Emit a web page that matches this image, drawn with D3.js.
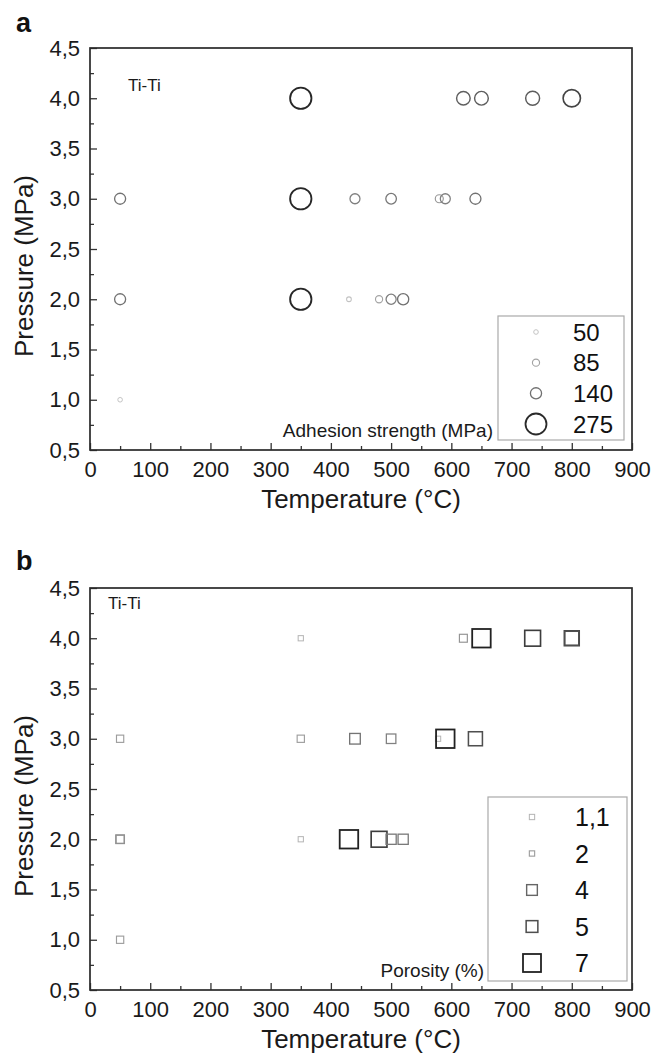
<!DOCTYPE html>
<html><head><meta charset="utf-8">
<script src="https://cdn.jsdelivr.net/npm/d3@7"></script>
<style>body{margin:0;background:#fff}svg{display:block;font-family:"Liberation Sans",Arial,sans-serif}</style>
</head><body><svg id="c" width="664" height="1061"></svg>
<script>
// ---- data ----
const xTickValues = [0,100,200,300,400,500,600,700,800,900];
const yTickValues = [0.5,1.0,1.5,2.0,2.5,3.0,3.5,4.0,4.5];

// panel a: adhesion strength (MPa)
const tempA     = [350,620,650,735,800, 50,350,440,500,580,590,640, 50,350,430,480,500,520, 50];
const pressA    = [4,4,4,4,4, 3,3,3,3,3,3,3, 2,2,2,2,2,2, 1];
const adhesion  = [280,173,175,178,225, 138,280,124,132,97,124,138, 138,280,52,85,125,140, 50];
const adhesionLegend = [50,85,140,275];

// panel b: porosity (%)
const tempB    = [350,620,650,735,800,800, 50,350,440,500,578,590,640, 50,50,350,430,480,500,520, 50];
const pressB   = [4,4,4,4,4,4, 3,3,3,3,3,3,3, 2,2,2,2,2,2,2, 1];
const porosity = [1.1,2.3,7,5.8,5.4,5.0, 2,2,3.5,3,1.1,7,5, 2.6,2.4,1.1,7,5.8,3.3,3.3, 2];
const porosityLegend = [1.1,2,4,5,7];
const porosityLegendLabels = ["1,1","2","4","5","7"];

// ---- layout ----
const svg = d3.select("#c");
const L = 90, R = 632;
const panels = [{top:48,bottom:450,letter:"a",letterY:32},{top:588,bottom:990,letter:"b",letterY:570}];
const x = d3.scaleLinear().domain([0,900]).range([L,R]);
const fmt = v => d3.format(".1f")(v).replace(".", ",");
const ink = "#1a1a1a";

function drawFrame(p){
  const y = d3.scaleLinear().domain([0.5,4.5]).range([p.bottom,p.top]);
  const g = svg.append("g");
  const xMinor = d3.range(50,900,100);
  g.append("g").attr("transform",`translate(0,${p.bottom})`)
    .call(d3.axisBottom(x).tickValues(xMinor).tickSize(-4).tickFormat(""))
    .call(s=>s.select(".domain").remove()).selectAll("line").attr("stroke","#333").attr("stroke-width",1.3);
  g.append("g").attr("transform",`translate(0,${p.bottom})`)
    .call(d3.axisBottom(x).tickValues(xTickValues).tickSize(-7).tickPadding(0).tickFormat(d=>d))
    .call(s=>s.select(".domain").remove())
    .call(s=>s.selectAll("line").attr("stroke","#333").attr("stroke-width",1.3))
    .call(s=>s.selectAll("text").attr("y",27).attr("dy",null).attr("font-size",22).attr("fill",ink).attr("font-family","Liberation Sans, Arial, sans-serif"));
  const yMinor = d3.range(0.75,4.5,0.5);
  g.append("g").attr("transform",`translate(${L},0)`)
    .call(d3.axisLeft(y).tickValues(yMinor).tickSize(-4).tickFormat(""))
    .call(s=>s.select(".domain").remove()).selectAll("line").attr("stroke","#333").attr("stroke-width",1.3);
  g.append("g").attr("transform",`translate(${L},0)`)
    .call(d3.axisLeft(y).tickValues(yTickValues).tickSize(-7).tickFormat(fmt))
    .call(s=>s.select(".domain").remove())
    .call(s=>s.selectAll("line").attr("stroke","#333").attr("stroke-width",1.3))
    .call(s=>s.selectAll("text").attr("x",-10).attr("font-size",22).attr("fill",ink).attr("font-family","Liberation Sans, Arial, sans-serif"));
  g.append("rect").attr("x",L).attr("y",p.top).attr("width",R-L).attr("height",p.bottom-p.top)
    .attr("fill","none").attr("stroke","#2a2a2a").attr("stroke-width",1.7);
  svg.append("text").attr("x",16).attr("y",p.letterY).attr("font-size",27).attr("font-weight","bold").attr("fill","#111").text(p.letter);
  svg.append("text").attr("x",(L+R)/2).attr("y",p.bottom+58).attr("text-anchor","middle").attr("font-size",26).attr("fill",ink).text("Temperature (°C)");
  svg.append("text").attr("transform",`translate(33,${p.bottom-184}) rotate(-90)`).attr("text-anchor","middle").attr("font-size",26).attr("fill",ink).text("Pressure (MPa)");
  return y;
}

// ---- panel a ----
const yA = drawFrame(panels[0]);
const rA = d3.scaleLinear().domain([50,275]).range([2.3,10.5]);
const cA = d3.scaleLinear().domain([50,140,275]).range(["#c4c4c4","#707070","#2a2a2a"]);
const wA = d3.scaleLinear().domain([50,275]).range([1,1.8]);
svg.append("text").attr("x",128).attr("y",91).attr("font-size",17).attr("fill",ink).text("Ti-Ti");
svg.append("g").selectAll("circle").data(d3.range(tempA.length)).join("circle")
  .attr("cx",i=>x(tempA[i])).attr("cy",i=>yA(pressA[i])).attr("r",i=>rA(adhesion[i]))
  .attr("fill","none").attr("stroke",i=>cA(adhesion[i])).attr("stroke-width",i=>wA(adhesion[i]));
// legend a
svg.append("rect").attr("x",498).attr("y",316).attr("width",126).attr("height",124).attr("fill","#fff").attr("stroke","#aaa").attr("stroke-width",1.2);
const legAy = d3.scalePoint().domain(adhesionLegend).range([332,424]);
svg.append("g").selectAll("circle").data(adhesionLegend).join("circle")
  .attr("cx",536).attr("cy",d=>legAy(d)).attr("r",d=>rA(d)).attr("fill","none")
  .attr("stroke",d=>cA(d)).attr("stroke-width",d=>wA(d));
svg.append("g").selectAll("text").data(adhesionLegend).join("text")
  .attr("x",573).attr("y",d=>legAy(d)).attr("dy","0.36em").attr("font-size",24).attr("fill","#111").text(d=>d);
svg.append("text").attr("x",493).attr("y",437).attr("text-anchor","end").attr("font-size",19).attr("fill",ink).text("Adhesion strength (MPa)");

// ---- panel b ----
const yB = drawFrame(panels[1]);
const sB = d3.scaleLinear().domain([1,7]).range([5,18.5]);
const cB = d3.scaleLinear().domain([1,4,7]).range(["#b8b8b8","#666","#222"]);
const wB = d3.scaleLinear().domain([1,7]).range([1,1.8]);
svg.append("text").attr("x",108).attr("y",609).attr("font-size",17).attr("fill",ink).text("Ti-Ti");
svg.append("g").selectAll("rect").data(d3.range(tempB.length)).join("rect")
  .attr("x",i=>x(tempB[i])-sB(porosity[i])/2).attr("y",i=>yB(pressB[i])-sB(porosity[i])/2)
  .attr("width",i=>sB(porosity[i])).attr("height",i=>sB(porosity[i]))
  .attr("fill","none").attr("stroke",i=>cB(porosity[i])).attr("stroke-width",i=>wB(porosity[i]));
// legend b
svg.append("rect").attr("x",488).attr("y",797).attr("width",139).attr("height",184).attr("fill","#fff").attr("stroke","#aaa").attr("stroke-width",1.2);
const legBy = d3.scalePoint().domain(porosityLegend).range([817,963]);
const legSB = d3.scaleOrdinal().domain(porosityLegend).range([5.3,5.3,10.7,11.7,18]);
svg.append("g").selectAll("rect").data(porosityLegend).join("rect")
  .attr("x",d=>532-legSB(d)/2).attr("y",d=>legBy(d)-legSB(d)/2).attr("width",d=>legSB(d)).attr("height",d=>legSB(d))
  .attr("fill","none").attr("stroke",d=>cB(d)).attr("stroke-width",d=>wB(d));
svg.append("g").selectAll("text").data(porosityLegend).join("text")
  .attr("x",575).attr("y",d=>legBy(d)).attr("dy","0.36em").attr("font-size",25).attr("fill","#111").text((d,i)=>porosityLegendLabels[i]);
svg.append("text").attr("x",484).attr("y",977).attr("text-anchor","end").attr("font-size",19).attr("fill",ink).text("Porosity (%)");
</script></body></html>
